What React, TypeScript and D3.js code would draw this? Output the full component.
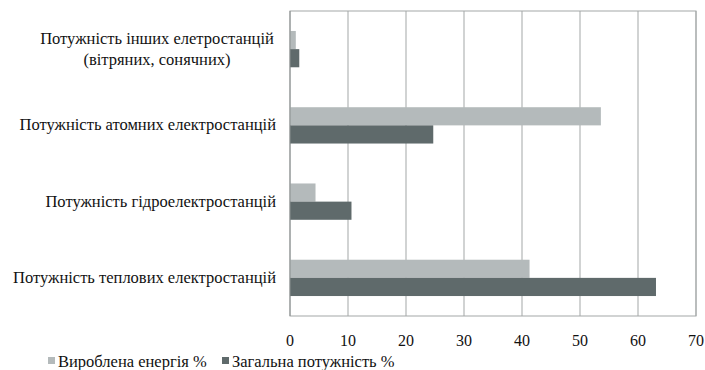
import React, { useEffect, useRef } from 'react';
import * as d3 from 'd3';

const categories = [
  ['Потужність інших елетростанцій', '(вітряних, сонячних)'],
  ['Потужність атомних електростанцій'],
  ['Потужність гідроелектростанцій'],
  ['Потужність теплових електростанцій'],
];
const produced = [1.0, 53.6, 4.4, 41.3];
const capacity = [1.6, 24.7, 10.6, 63.1];
const xTicks = [0, 10, 20, 30, 40, 50, 60, 70];
const seriesNames = ['Вироблена енергія %', 'Загальна потужність %'];
const colors = ['#b4babb', '#5f6a6b'];

const App = () => {
  const svgRef = useRef<SVGSVGElement>(null);

  useEffect(() => {
    const svg = d3.select(svgRef.current);
    svg.selectAll('*').remove();

    const left = 290, right = 696, top = 11, bottom = 316;
    const font = "'Liberation Serif', 'DejaVu Serif', serif";

    const x = d3.scaleLinear().domain([0, 70]).range([left, right]);
    const y = d3.scaleBand<number>().domain(d3.range(categories.length)).range([top, bottom]);
    const inner = d3.scaleBand<number>().domain([0, 1]).range([0, y.bandwidth()]).paddingOuter(1.1).paddingInner(0);

    // border and gridlines
    svg.append('rect').attr('x', left).attr('y', top).attr('width', right - left).attr('height', bottom - top)
      .attr('fill', 'none').attr('stroke', '#a3a7a7').attr('stroke-width', 1);
    svg.append('g').selectAll('line').data(xTicks.slice(1)).enter().append('line')
      .attr('x1', d => x(d)).attr('x2', d => x(d)).attr('y1', top).attr('y2', bottom)
      .attr('stroke', '#a3a7a7').attr('stroke-width', 1);

    const series = [produced, capacity];
    series.forEach((vals, s) => {
      svg.append('g').selectAll('rect').data(vals).enter().append('rect')
        .attr('x', x(0))
        .attr('y', (d, i) => (y(i) as number) + (inner(s) as number))
        .attr('width', d => x(d) - x(0))
        .attr('height', inner.bandwidth())
        .attr('fill', colors[s]);
    });

    // left axis line
    svg.append('line').attr('x1', left).attr('x2', left).attr('y1', top).attr('y2', bottom)
      .attr('stroke', '#8a8f8f').attr('stroke-width', 1);

    // category labels
    categories.forEach((lines, i) => {
      const cy = (y(i) as number) + y.bandwidth() / 2;
      const lh = 21;
      lines.forEach((l, k) => {
        svg.append('text')
          .style('font-family', font).style('font-size', '16.5px').attr('fill', '#111')
          .attr('x', lines.length > 1 ? 157 : 276)
          .attr('text-anchor', lines.length > 1 ? 'middle' : 'end')
          .attr('y', cy + 5 - ((lines.length - 1) * lh) / 2 + k * lh)
          .text(l);
      });
    });

    // x tick labels
    svg.append('g').selectAll('text').data(xTicks).enter().append('text')
      .attr('x', d => x(d)).attr('y', 346).attr('text-anchor', 'middle')
      .style('font-family', font).style('font-size', '16px').attr('fill', '#111')
      .text(d => d);

    // legend
    const legendX = [48, 222];
    seriesNames.forEach((name, s) => {
      svg.append('rect').attr('x', legendX[s]).attr('y', 357).attr('width', 7).attr('height', 7).attr('fill', colors[s]);
      svg.append('text').attr('x', legendX[s] + 10).attr('y', 367)
        .style('font-family', font).style('font-size', '16.5px').attr('fill', '#111').text(name);
    });
  }, []);

  return (
    <svg ref={svgRef} width={705} height={370}
      style={{ position: 'absolute', left: 0, top: 0, background: '#fff' }} />
  );
};

export default App;
